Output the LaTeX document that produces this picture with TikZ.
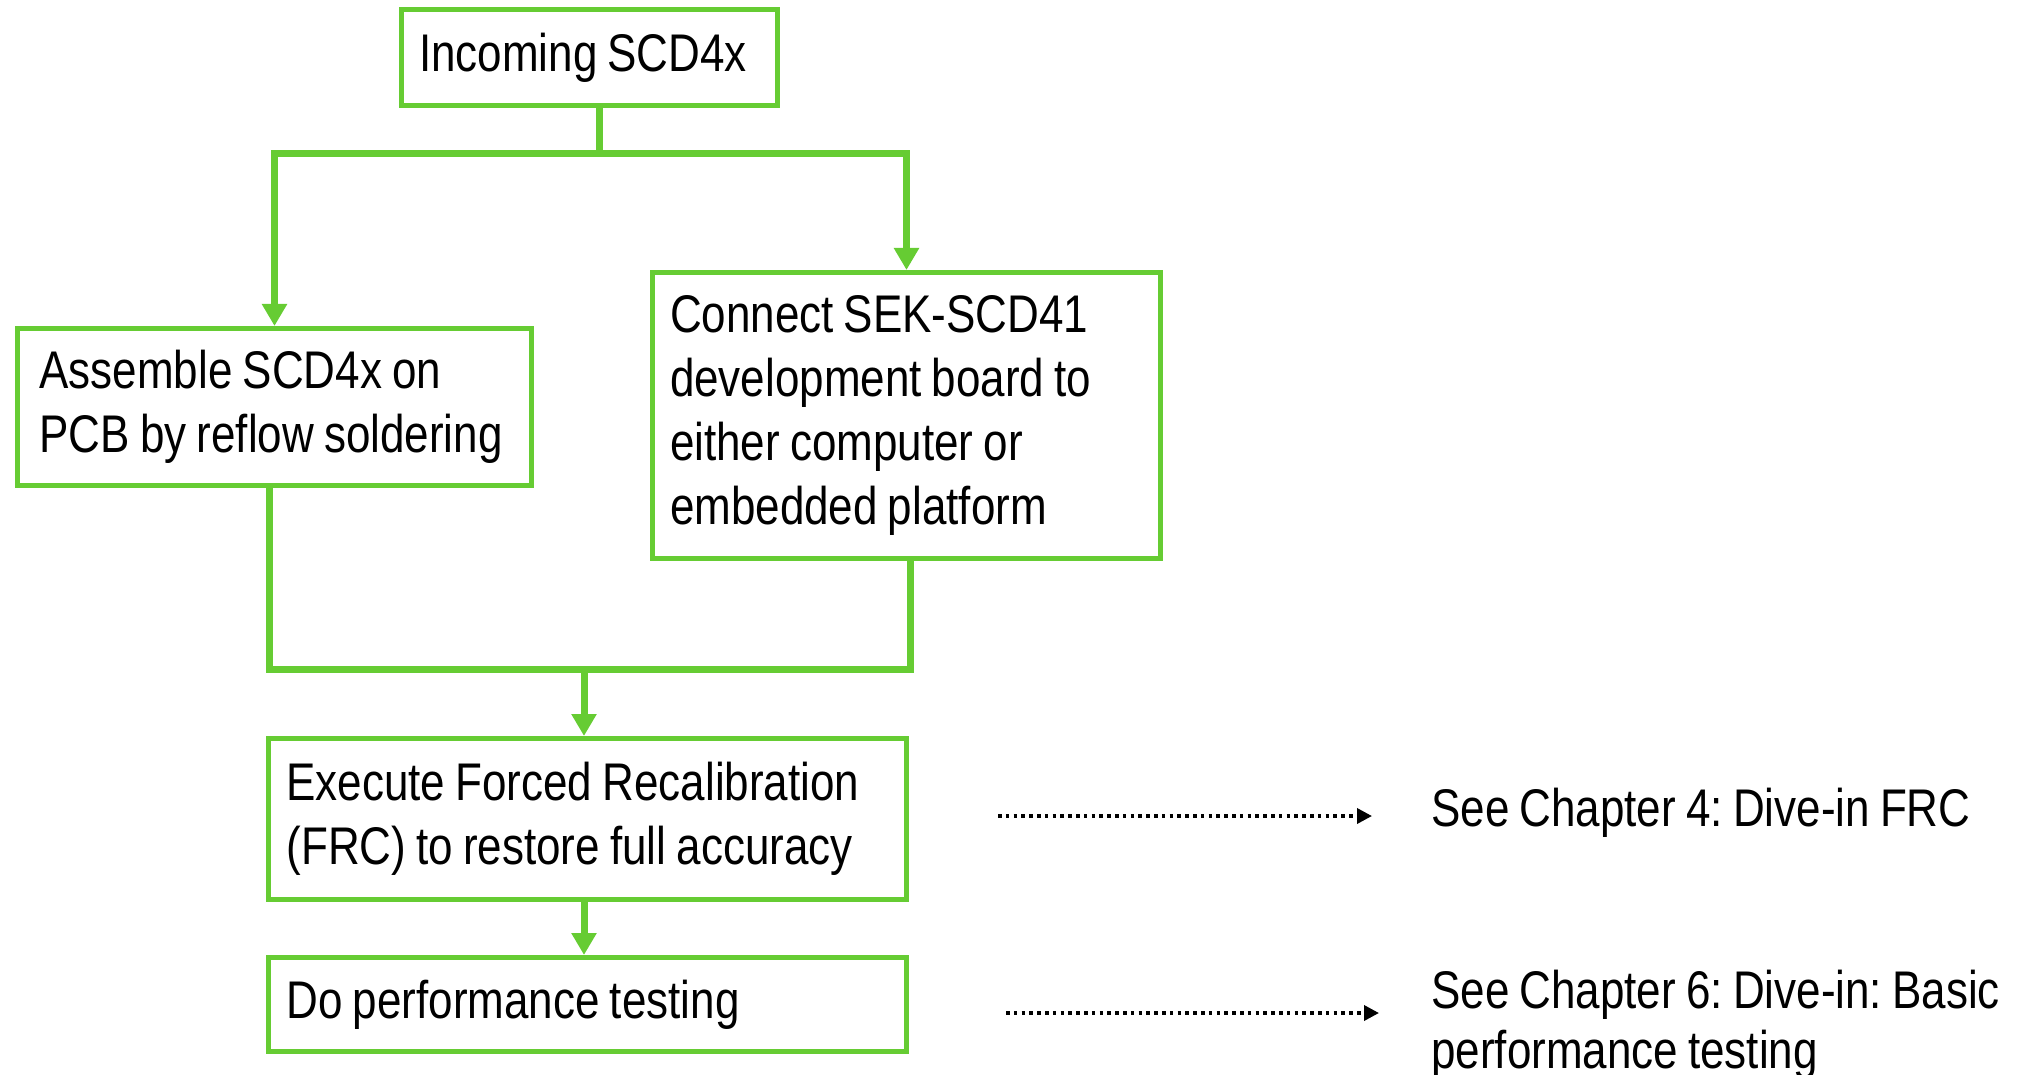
\documentclass[tikz,border=0pt]{standalone}
\usepackage{fontspec}
\setmainfont{Liberation Sans}[FakeStretch=0.83,WordSpace=0.83]
\usetikzlibrary{arrows.meta}
\definecolor{sgreen}{RGB}{102,204,51}
\hyphenpenalty=10000
\exhyphenpenalty=10000
\frenchspacing
\newcommand\plainspaces{\spaceskip=0pt\xspaceskip=0pt\relax}
\begin{document}
\frenchspacing
\begin{tikzpicture}[x=1pt,y=-1pt,
  box/.style={draw=sgreen, line width=5pt, rectangle, align=left,
    font=\fontsize{53}{64}\selectfont, inner ysep=0pt,
    execute at begin node=\plainspaces},
  conn/.style={draw=sgreen, line width=7pt},
  arr/.style={conn, -{Triangle[width=24pt,length=22pt]}},
  dotarr/.style={draw=black, line width=3.5pt, dash pattern=on 3.5pt off 4.3pt,
    -{Triangle[width=15pt,length=15pt]}},
  side/.style={font=\fontsize{53}{62}\selectfont, inner sep=0pt, anchor=base west}]
\useasboundingbox (0,0) rectangle (2032,1075);

\node[box, minimum width=376pt, minimum height=96pt, text width=341pt, inner xsep=17.5pt]
  (inc) at (589.5,57.5) {Incoming SCD4x};
\node[box, minimum width=514pt, minimum height=157pt, text width=470pt, inner xsep=22pt]
  (ass) at (274.5,407) {Assemble SCD4x on\\PCB by reflow soldering};
\node[box, minimum width=508pt, minimum height=286pt, text width=473pt, inner xsep=17.5pt]
  (con) at (906.5,415.5) {Connect SEK-SCD41\\development board to\\either computer or\\embedded platform};
\node[box, minimum width=638pt, minimum height=161pt, text width=602pt, inner xsep=18pt]
  (exe) at (587.5,819) {Execute Forced Recalibration\\(FRC) to restore full accuracy};
\node[box, minimum width=638pt, minimum height=94pt, text width=602pt, inner xsep=18pt]
  (dop) at (587.5,1004.5) {Do performance testing};

\node[side] (t1) at (1431,826) {See Chapter 4: Dive-in FRC};
\node[side] (t2) at (1431,1008) {See Chapter 6: Dive-in: Basic};
\node[side] (t2b) at (1431,1068) {performance testing};

\coordinate (split) at (599.5,153.5);
\coordinate (legL) at (269,669);
\coordinate (legR) at (910.5,669);
\coordinate (merge) at (584,669);
\coordinate (d1s) at (998,816);
\coordinate (d1e) at (1372,816);
\coordinate (d2s) at (1006,1013);
\coordinate (d2e) at (1379,1013);

\draw[conn] (inc.south -| split) -- (split);
\draw[arr] (split) -| (ass.north);
\draw[arr] (split) -| (con.north);
\draw[conn] (ass.south -| legL) -- (legL) -- (legR) -- (con.south -| legR);
\draw[arr] (merge) -- (exe.north -| merge);
\draw[arr] (exe.south -| merge) -- (dop.north -| merge);
\draw[dotarr] (d1s) -- (d1e);
\draw[dotarr] (d2s) -- (d2e);
\end{tikzpicture}
\end{document}
